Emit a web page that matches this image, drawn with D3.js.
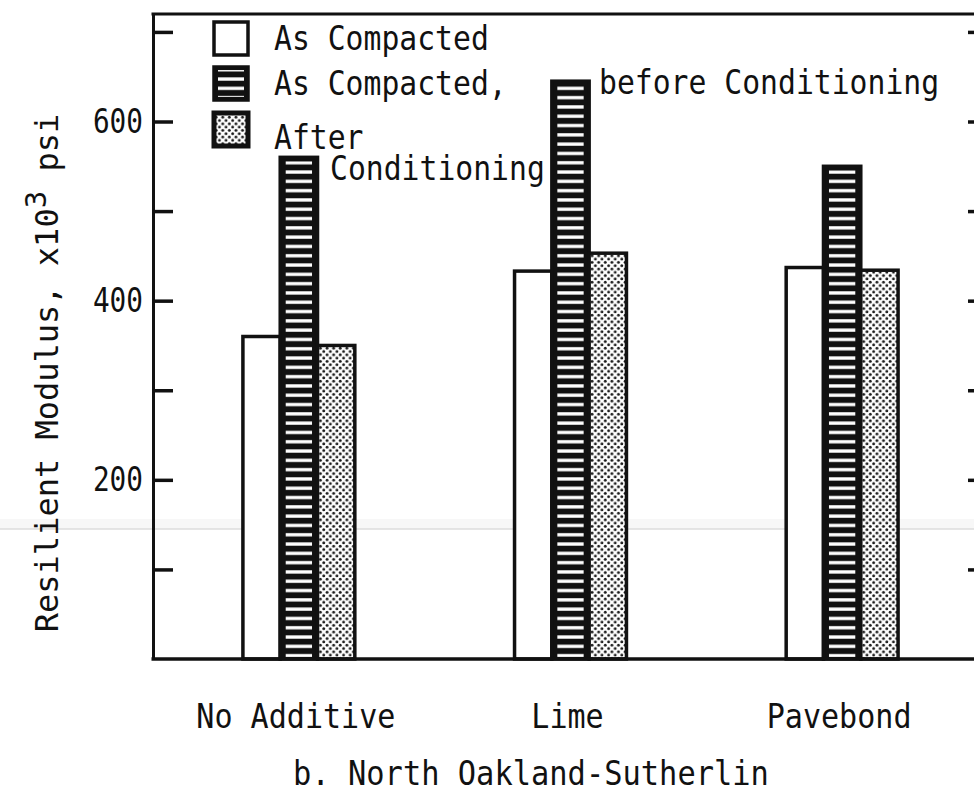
<!DOCTYPE html>
<html>
<head>
<meta charset="utf-8">
<script src="https://cdn.jsdelivr.net/npm/d3@7"></script>
<style>
  html, body { margin: 0; padding: 0; background: #fff; }
  svg { display: block; }
  text { font-family: "DejaVu Sans Mono", "Liberation Mono", monospace; fill: #111; }
</style>
</head>
<body>
<svg id="chart" width="974" height="795"></svg>
<script>
// Resilient modulus (x10^3 psi) by additive, North Oakland-Sutherlin
const categories = ["No Additive", "Lime", "Pavebond"];
const seriesNames = ["As Compacted", "As Compacted, before Conditioning", "After Conditioning"];
const asCompacted = [360, 433, 437];
const beforeConditioning = [560, 645, 550];
const afterConditioning = [350, 453, 434];
const yTickValues = [100, 200, 300, 400, 500, 600, 700];
const yTickLabels = [200, 400, 600];

const seriesValues = [asCompacted, beforeConditioning, afterConditioning];

const svg = d3.select("#chart");
const W = 974, H = 795;
const plotLeft = 153, plotRight = 988, plotTop = 14, plotBottom = 659;
const FONT = 33, ADV = 17.9;   // typewriter-style narrow monospace

// squeeze glyphs to a fixed per-character advance
function narrow(sel, adv) {
  sel.each(function() {
    const t = d3.select(this), s = t.text();
    if (s.length) t.attr("textLength", s.length * adv).attr("lengthAdjust", "spacingAndGlyphs");
  });
  return sel;
}

const x = d3.scaleBand().domain(categories).range([plotLeft, plotRight])
  .paddingInner(0.588).paddingOuter(0.331);
const xs = d3.scaleBand().domain(seriesNames).range([0, x.bandwidth()]).padding(0);
const y = d3.scaleLinear().domain([0, 720]).range([plotBottom, plotTop]);

// fill patterns
const defs = svg.append("defs");
const stripe = defs.append("pattern").attr("id", "stripes")
  .attr("patternUnits", "userSpaceOnUse").attr("width", 40).attr("height", 9.3);
stripe.append("rect").attr("x", 0).attr("y", 3).attr("width", 40).attr("height", 3.3).attr("fill", "#fff");

const dots = defs.append("pattern").attr("id", "dots")
  .attr("patternUnits", "userSpaceOnUse").attr("width", 6.6).attr("height", 6.6);
dots.append("rect").attr("width", 6.6).attr("height", 6.6).attr("fill", "#fff");
dots.append("circle").attr("cx", 1.65).attr("cy", 1.65).attr("r", 1.45).attr("fill", "#1a1a1a");
dots.append("circle").attr("cx", 4.95).attr("cy", 4.95).attr("r", 1.45).attr("fill", "#1a1a1a");

// faint scan band across the page
svg.append("rect").attr("x", 0).attr("y", 519).attr("width", W).attr("height", 10).attr("fill", "#f7f7f7");
svg.append("line").attr("x1", 0).attr("x2", W).attr("y1", 529).attr("y2", 529)
  .attr("stroke", "#dcdcdc").attr("stroke-width", 1.5);

// bars
const groups = svg.append("g").selectAll("g").data(categories).join("g")
  .attr("transform", d => `translate(${x(d)},0)`);

function drawBar(g, s, v) {
  const bx = xs(s), bw = xs.bandwidth();
  const by = y(v), bh = y(0) - y(v);
  if (s === seriesNames[1]) {
    g.append("rect").attr("x", bx).attr("y", by).attr("width", bw).attr("height", bh)
      .attr("fill", "#111").attr("stroke", "#111").attr("stroke-width", 3.5);
    g.append("rect").attr("x", bx + 5.5).attr("y", by + 4).attr("width", bw - 11).attr("height", bh - 6)
      .attr("fill", "url(#stripes)");
  } else {
    g.append("rect").attr("x", bx).attr("y", by).attr("width", bw).attr("height", bh)
      .attr("fill", s === seriesNames[0] ? "#fff" : "url(#dots)")
      .attr("stroke", "#111").attr("stroke-width", 3.5);
  }
}

groups.each(function(cat, i) {
  const g = d3.select(this);
  seriesNames.forEach((s, j) => drawBar(g, s, seriesValues[j][i]));
});

// frame and axes
const yAxisL = d3.axisLeft(y).tickValues(yTickValues).tickSizeInner(-20).tickSizeOuter(0)
  .tickPadding(10).tickFormat(d => yTickLabels.includes(d) ? d : "");
const gl = svg.append("g").attr("transform", `translate(${plotLeft},0)`).call(yAxisL);
gl.select(".domain").attr("stroke", "#111").attr("stroke-width", 3);
gl.selectAll(".tick line").attr("stroke", "#111").attr("stroke-width", 3.5);
narrow(gl.selectAll(".tick text").attr("font-size", FONT).attr("fill", "#111")
  .style("font-family", "'DejaVu Sans Mono', monospace"), 16.7);

const yAxisR = d3.axisRight(y).tickValues(yTickValues).tickSizeInner(-20).tickSizeOuter(0)
  .tickFormat("");
const gr = svg.append("g").attr("transform", `translate(${plotRight},0)`).call(yAxisR);
gr.select(".domain").attr("stroke", "#111").attr("stroke-width", 3);
gr.selectAll(".tick line").attr("stroke", "#111").attr("stroke-width", 3.5);

svg.append("line").attr("x1", plotLeft - 1.5).attr("x2", plotRight).attr("y1", y(720)).attr("y2", y(720))
  .attr("stroke", "#111").attr("stroke-width", 3);
svg.append("line").attr("x1", plotLeft - 1.5).attr("x2", plotRight).attr("y1", y(0)).attr("y2", y(0))
  .attr("stroke", "#111").attr("stroke-width", 3.5);

// category labels
narrow(svg.append("g").selectAll("text").data(categories).join("text")
  .attr("x", d => x(d) + x.bandwidth() / 2 - 3)
  .attr("y", 728)
  .attr("text-anchor", "middle")
  .attr("font-size", FONT)
  .text(d => d), 18.1);

// caption
narrow(svg.append("text").attr("x", 531).attr("y", 785).attr("text-anchor", "middle")
  .attr("font-size", FONT).text("b. North Oakland-Sutherlin"), 18.3);

// y axis title
const yt = svg.append("text")
  .attr("transform", "translate(58,373) rotate(-90)")
  .attr("text-anchor", "middle")
  .attr("font-size", 32);
yt.append("tspan").text("Resilient Modulus, x10");
yt.append("tspan").attr("dy", -12).attr("font-size", 29).text("3");
yt.append("tspan").attr("dy", 12).text(" psi");

// legend
const legend = svg.append("g");
const swY = [22, 67, 113];
const labelLines = [
  [{ t: "As Compacted", x: 274, y: 50 }],
  [{ t: "As Compacted,", x: 274, y: 95 }, { t: "before Conditioning", x: 599, y: 94 }],
  [{ t: "After", x: 274, y: 149 }, { t: "Conditioning", x: 330, y: 180 }]
];
seriesNames.forEach((s, i) => {
  const sx = 214, sw = 34, sh = 33, sy = swY[i];
  if (i === 1) {
    legend.append("rect").attr("x", sx).attr("y", sy).attr("width", sw).attr("height", sh)
      .attr("fill", "#111").attr("stroke", "#111").attr("stroke-width", 3.5);
    legend.append("rect").attr("x", sx + 4).attr("y", sy + 3).attr("width", sw - 8).attr("height", sh - 6)
      .attr("fill", "url(#stripes)");
  } else {
    legend.append("rect").attr("x", sx).attr("y", sy).attr("width", sw).attr("height", sh)
      .attr("fill", i === 0 ? "#fff" : "url(#dots)")
      .attr("stroke", "#111").attr("stroke-width", i === 0 ? 3.5 : 5);
  }
  labelLines[i].forEach(l => {
    narrow(legend.append("text").attr("x", l.x).attr("y", l.y).attr("font-size", FONT).text(l.t), 17.9);
  });
});
</script>
</body>
</html>
